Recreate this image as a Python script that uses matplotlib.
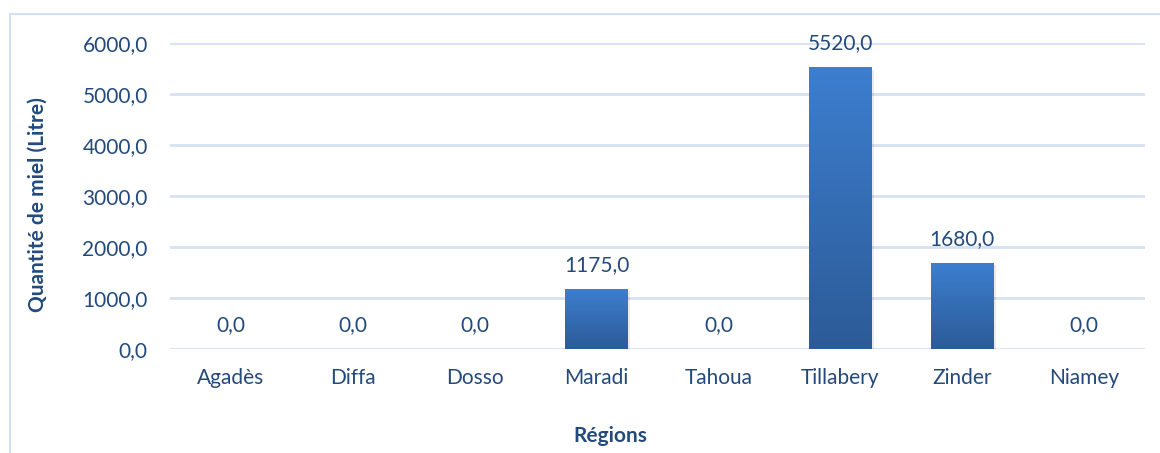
import numpy as np
import matplotlib.pyplot as plt
from matplotlib.colors import LinearSegmentedColormap
from matplotlib.patches import Rectangle

# Données
regions = ['Agadès', 'Diffa', 'Dosso', 'Maradi', 'Tahoua', 'Tillabery', 'Zinder', 'Niamey']
quantites = [0.0, 0.0, 0.0, 1175.0, 0.0, 5520.0, 1680.0, 0.0]
yticks = [0, 1000, 2000, 3000, 4000, 5000, 6000]

texte = '#234A7C'
grille = '#D6E1F2'

plt.rcParams['font.family'] = ['Lato', 'DejaVu Sans']

fig = plt.figure(figsize=(11.6, 4.53), dpi=100)
ax = fig.add_axes([170 / 1160, 1 - 349 / 453, 975 / 1160, 306 / 453])

# cadre extérieur
fig.patches.append(Rectangle((10 / 1160, -0.1), 1.2, 1 - 14 / 453 + 0.1,
                             transform=fig.transFigure, fill=False,
                             edgecolor='#CFDDF1', linewidth=1.3))

x = np.arange(len(regions))
barres = ax.bar(x, quantites, width=0.51, color='none', zorder=3)

# dégradé vertical sur chaque barre
cmap = LinearSegmentedColormap.from_list('bleu', ['#2C5B97', '#3D7ECF'])
grad = np.linspace(0, 1, 256).reshape(-1, 1)
for b in barres:
    h = b.get_height()
    if h <= 0:
        continue
    x0 = b.get_x()
    w = b.get_width()
    img = ax.imshow(grad, cmap=cmap, aspect='auto', origin='lower',
                    extent=[x0, x0 + w, 0, h], zorder=3)
    img.set_clip_path(b)
    # ombre légère
    ax.add_patch(Rectangle((x0 + 0.02, -40), w, h, facecolor='#000000',
                           alpha=0.08, zorder=2, linewidth=0))

for xi, v in zip(x, quantites):
    ax.text(xi, v + 280, f'{v:.1f}'.replace('.', ','), ha='center', va='bottom',
            fontsize=15, color=texte)

ax.set_xlim(-0.5, len(regions) - 0.5)
ax.set_ylim(0, 6000)
ax.set_yticks(yticks)
ax.set_yticklabels([f'{t:.1f}'.replace('.', ',') for t in yticks])
ax.set_xticks(x)
ax.set_xticklabels(regions)
ax.tick_params(axis='both', length=0, labelsize=15, labelcolor=texte)
ax.tick_params(axis='y', pad=16)
ax.tick_params(axis='x', pad=14)

ax.grid(axis='y', color=grille, linewidth=2, zorder=0)
ax.set_axisbelow(True)
for s in ax.spines.values():
    s.set_visible(False)

fig.text(610 / 1160, 1 - 436 / 453, 'Régions', ha='center', va='center',
         fontsize=15, fontweight='bold', color=texte)
fig.text(38 / 1160, 1 - 205 / 453, 'Quantité de miel (Litre)', ha='center', va='center',
         rotation=90, fontsize=15, fontweight='bold', color=texte)

fig.savefig('out.png', dpi=100)
